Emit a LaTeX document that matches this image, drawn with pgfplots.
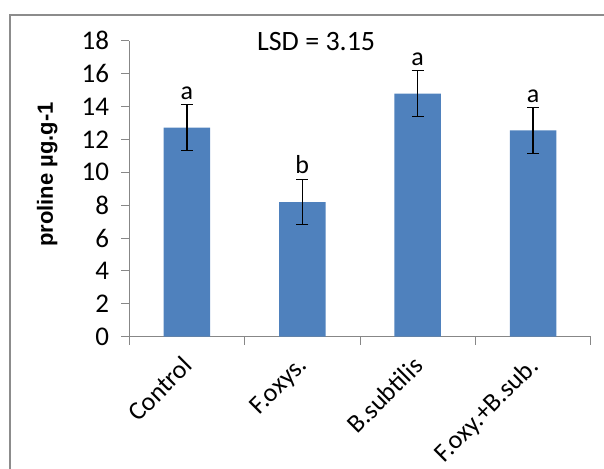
\documentclass[border=0pt]{standalone}
\usepackage{pgfplots}
\pgfplotsset{compat=1.18}
\usepackage{fontspec}
\setmainfont{Carlito}
\newfontfamily\arialfont{Liberation Sans}
\definecolor{barblue}{HTML}{4F81BD}
\definecolor{axgray}{HTML}{878787}
\definecolor{framegray}{HTML}{8C8C8C}
\pgfplotstableread{
x y e
1 12.71 1.40
2 8.19 1.38
3 14.78 1.40
4 12.55 1.39
}\datatable
\begin{document}
\begin{tikzpicture}[x=1pt,y=1pt]
\useasboundingbox (0,0) rectangle (604,468);
\begin{scope}
\clip (0,0) rectangle (604,468);
\draw[framegray, line width=2pt] (10,-10) -- (10,453) -- (620,453);
\end{scope}
\begin{axis}[
  at={(129.3pt,131.3pt)}, anchor=south west,
  scale only axis, width=461.4pt, height=296pt,
  xmin=0.5, xmax=4.5, ymin=0, ymax=18,
  clip=false,
  axis x line*=bottom, axis y line*=left,
  axis line style={axgray, line width=1pt},
  ytick={0,2,...,18},
  xtick={0.5,1.5,2.5,3.5,4.5}, xticklabels={},
  extra x ticks={1,2,3,4},
  extra x tick labels={Control,F.oxys.,B.subtilis,F.oxy.+B.sub.},
  extra x tick style={major tick length=0pt,
    xticklabel style={xshift=-6pt, yshift=-18pt, rotate=45, anchor=north east, inner sep=0pt, font=\fontsize{26}{30}\selectfont}},
  tick align=outside, major tick length=8pt,
  tick style={axgray, line width=1pt},
  tick label style={font=\fontsize{27}{31}\selectfont, text=black},
  /pgf/number format/assume math mode=true,
  yticklabel style={anchor=east, inner sep=0pt, xshift=-12pt},
  ylabel={proline µg.g-1},
  ylabel style={at={(axis description cs:-0.1777,0.548)}, anchor=center, font=\arialfont\bfseries\fontsize{22}{26}\selectfont},
]
\addplot[ybar, bar width=46.5pt, fill=barblue, draw=none,
  error bars/.cd, y dir=both, y explicit,
  error bar style={black, line width=1.1pt},
  error mark options={black, rotate=90, mark size=6pt, line width=1.1pt}]
  table[x=x, y=y, y error=e]{\datatable};
\addplot[draw=none, nodes near coords, point meta=explicit symbolic,
  nodes near coords style={anchor=south, inner sep=0pt, yshift=5pt, font=\fontsize{26}{30}\selectfont, text=black}]
  coordinates {(1,14.11) [a] (2,9.57) [b] (3,16.18) [a] (4,13.94) [a]};
\node[font=\fontsize{28}{32}\selectfont, text=black] at (axis cs:2.12,17.92) {LSD = 3.15};
\end{axis}
\end{tikzpicture}
\end{document}
